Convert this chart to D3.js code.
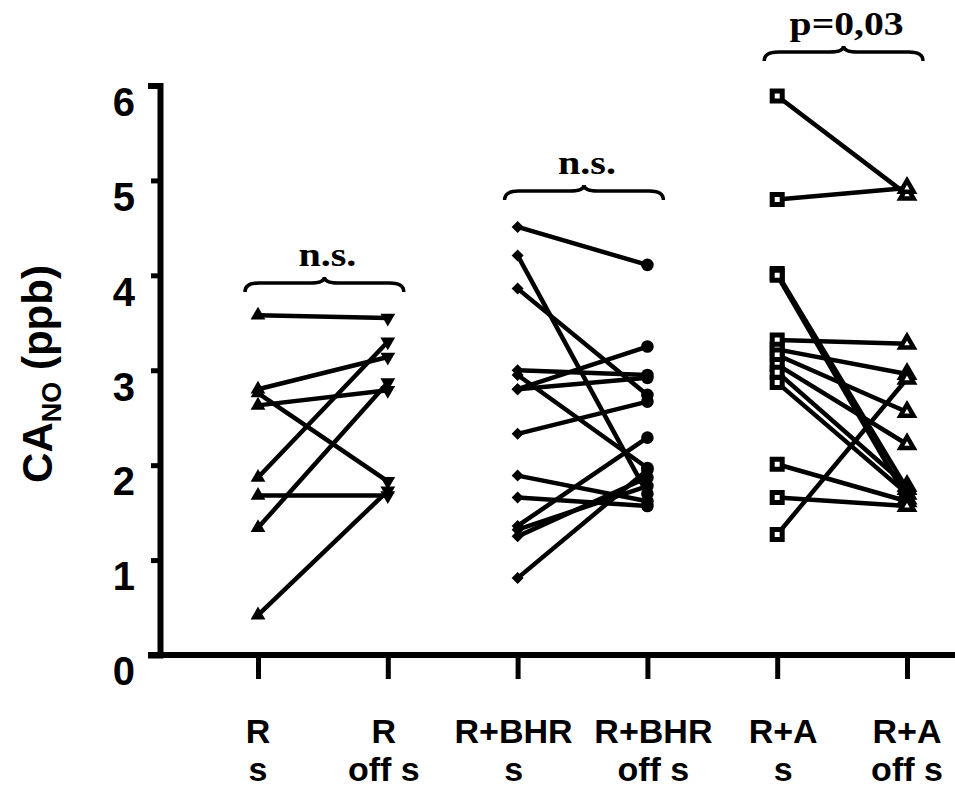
<!DOCTYPE html>
<html>
<head>
<meta charset="utf-8">
<script src="https://cdn.jsdelivr.net/npm/d3@7"></script>
<style>
  body { margin: 0; background: #fff; }
  svg { display: block; }
</style>
</head>
<body>
<div class="chart"></div>
<script>
// categories on the x axis (two text lines per tick)
const categories = ["R s", "R off s", "R+BHR s", "R+BHR off s", "R+A s", "R+A off s"];
const tickLine1 = ["R", "R", "R+BHR", "R+BHR", "R+A", "R+A"];
const tickLine2 = ["s", "off s", "s", "off s", "s", "off s"];
const yTicks = [0, 1, 2, 3, 4, 5, 6];

// paired values, CA_NO (ppb): index i of "s" joins index i of "off s"
const rS      = [3.58, 2.80, 2.63, 2.76, 1.87, 1.34, 1.68, 0.42];
const rOff    = [3.55, 3.14, 2.79, 1.83, 3.30, 2.87, 1.68, 1.73];

const bhrS    = [4.51, 4.21, 3.86, 3.00, 2.95, 2.80, 2.80, 2.33, 1.89, 1.66, 1.36, 1.32, 1.25, 0.81];
const bhrOff  = [4.11, 1.70, 2.74, 2.95, 1.97, 3.25, 2.92, 2.67, 1.62, 1.57, 2.29, 1.78, 1.87, 1.95];

const aS      = [5.89, 4.80, 4.02, 4.00, 3.32, 3.22, 3.16, 3.06, 2.98, 2.87, 2.01, 1.66, 1.27];
const aOff    = [4.85, 4.92, 1.75, 1.65, 3.28, 2.96, 2.56, 2.22, 1.78, 1.70, 1.62, 1.57, 2.91];

const testLabels = ["n.s.", "n.s.", "p=0,03"];

const groups = [
    {s: rS,   off: rOff,   sym: ["triUp", "triDown"]},
    {s: bhrS, off: bhrOff, sym: ["diamond", "circle"]},
    {s: aS,   off: aOff,   sym: ["openSquare", "openTri"]}
];

const width = 955, height = 789;

const svg = d3.select(".chart").append("svg")
    .attr("width", width)
    .attr("height", height)
    .attr("viewBox", [0, 0, width, height]);

const yScale = d3.scaleLinear()
    .domain([0, 6])
    .range([655, 85.5]);

const xScale = d3.scalePoint()
    .domain(categories)
    .range([258, 907]);

// y axis
const yAxis = d3.axisLeft(yScale)
    .tickValues(yTicks)
    .tickFormat(d3.format("d"))
    .tickSize(9)
    .tickPadding(16);

const gy = svg.append("g")
    .attr("class", "axis y-axis")
    .attr("transform", "translate(160,0)")
    .call(yAxis);

gy.select(".domain").attr("stroke-width", 6).attr("stroke-linecap", "square");
gy.selectAll(".tick line").attr("stroke-width", 5);
gy.selectAll(".tick text")
    .attr("transform", "translate(0,17)")
    .style("font-family", "'Liberation Sans', Arial, sans-serif")
    .style("font-weight", "bold")
    .style("font-size", "40px")
    .attr("fill", "#000");

// x axis line, then ticks
svg.append("line")
    .attr("x1", 148).attr("x2", width)
    .attr("y1", yScale(0)).attr("y2", yScale(0))
    .attr("stroke", "#000")
    .attr("stroke-width", 6);

const xAxis = d3.axisBottom(xScale)
    .tickSize(24)
    .tickSizeOuter(0)
    .tickFormat("");

const gx = svg.append("g")
    .attr("class", "axis x-axis")
    .attr("transform", `translate(0,${yScale(0)})`)
    .call(xAxis);
gx.select(".domain").remove();
gx.selectAll(".tick line").attr("stroke-width", 5);

// labels nudged sideways so the long ones do not collide
const labelShift = [0, -4, -4, 6, 6, 0];

const xLab = svg.append("g")
    .style("font-family", "'Liberation Sans', Arial, sans-serif")
    .style("font-weight", "bold")
    .style("font-size", "34px")
    .attr("text-anchor", "middle");

xLab.selectAll("text.l1")
    .data(categories)
    .enter()
    .append("text")
    .attr("class", "l1")
    .attr("x", (d, i) => xScale(d) + labelShift[i])
    .attr("y", 743)
    .text((d, i) => tickLine1[i]);

xLab.selectAll("text.l2")
    .data(categories)
    .enter()
    .append("text")
    .attr("class", "l2")
    .attr("x", (d, i) => xScale(d) + labelShift[i])
    .attr("y", 781)
    .text((d, i) => tickLine2[i]);

// y axis title
const yTitle = svg.append("text")
    .attr("transform", "translate(52,374) rotate(-90)")
    .attr("text-anchor", "middle")
    .style("font-family", "'Liberation Sans', Arial, sans-serif")
    .style("font-weight", "bold")
    .style("font-size", "42px");
yTitle.append("tspan").text("CA");
yTitle.append("tspan").attr("dy", 9).style("font-size", "27px").text("NO");
yTitle.append("tspan").attr("dy", -9).text(" (ppb)");

// connecting lines
const pairs = svg.append("g");
groups.forEach((g, gi) => {
    const xs = xScale(categories[gi * 2]);
    const xo = xScale(categories[gi * 2 + 1]);
    pairs.selectAll(null)
        .data(g.s)
        .enter()
        .append("line")
        .attr("x1", xs)
        .attr("y1", d => yScale(d))
        .attr("x2", xo)
        .attr("y2", (d, i) => yScale(g.off[i]))
        .attr("stroke", "#000")
        .attr("stroke-width", 4.5);
});

// markers
const symbols = {
    triUp:      {path: d3.symbol(d3.symbolTriangle, 95)(), rot: 0, fill: "#000", sw: 0},
    triDown:    {path: d3.symbol(d3.symbolTriangle, 95)(), rot: 180, fill: "#000", sw: 0},
    diamond:    {path: d3.symbol(d3.symbolSquare, 72)(), rot: 45, fill: "#000", sw: 0},
    circle:     {path: d3.symbol(d3.symbolCircle, 125)(), rot: 0, fill: "#000", sw: 0},
    openSquare: {path: d3.symbol(d3.symbolSquare, 100)(), rot: 0, fill: "#fff", sw: 5},
    openTri:    {path: d3.symbol(d3.symbolTriangle, 75)(), rot: 0, fill: "#fff", sw: 4.5}
};

const marks = svg.append("g");
groups.forEach((g, gi) => {
    [g.s, g.off].forEach((vals, k) => {
        const sym = symbols[g.sym[k]];
        const cx = xScale(categories[gi * 2 + k]);
        marks.selectAll(null)
            .data(vals)
            .enter()
            .append("path")
            .attr("d", sym.path)
            .attr("transform", d => `translate(${cx},${yScale(d)}) rotate(${sym.rot})`)
            .attr("fill", sym.fill)
            .attr("stroke", "#000")
            .attr("stroke-width", sym.sw)
            .attr("stroke-linejoin", "miter");
    });
});

// significance braces
const braceY = [283, 191, 52];
function bracePath(x0, x1, y) {
    const xm = (x0 + x1) / 2;
    return `M${x0},${y + 9} Q${x0},${y} ${x0 + 14},${y} L${xm - 14},${y} Q${xm},${y} ${xm},${y - 6}`
         + ` Q${xm},${y} ${xm + 14},${y} L${x1 - 14},${y} Q${x1},${y} ${x1},${y + 9}`;
}

testLabels.forEach((lab, gi) => {
    const x0 = xScale(categories[gi * 2]) - 13;
    const x1 = xScale(categories[gi * 2 + 1]) + 16;
    svg.append("path")
        .attr("d", bracePath(x0, x1, braceY[gi]))
        .attr("fill", "none")
        .attr("stroke", "#000")
        .attr("stroke-width", 3.5);
    svg.append("text")
        .attr("x", (x0 + x1) / 2 + 3)
        .attr("y", braceY[gi] - 17)
        .attr("text-anchor", "middle")
        .attr("textLength", lab.length === 4 ? 58 : 114)
        .attr("lengthAdjust", "spacingAndGlyphs")
        .style("font-family", "'Liberation Serif', 'Times New Roman', serif")
        .style("font-weight", "bold")
        .style("font-size", "33px")
        .text(lab);
});
</script>
</body>
</html>
